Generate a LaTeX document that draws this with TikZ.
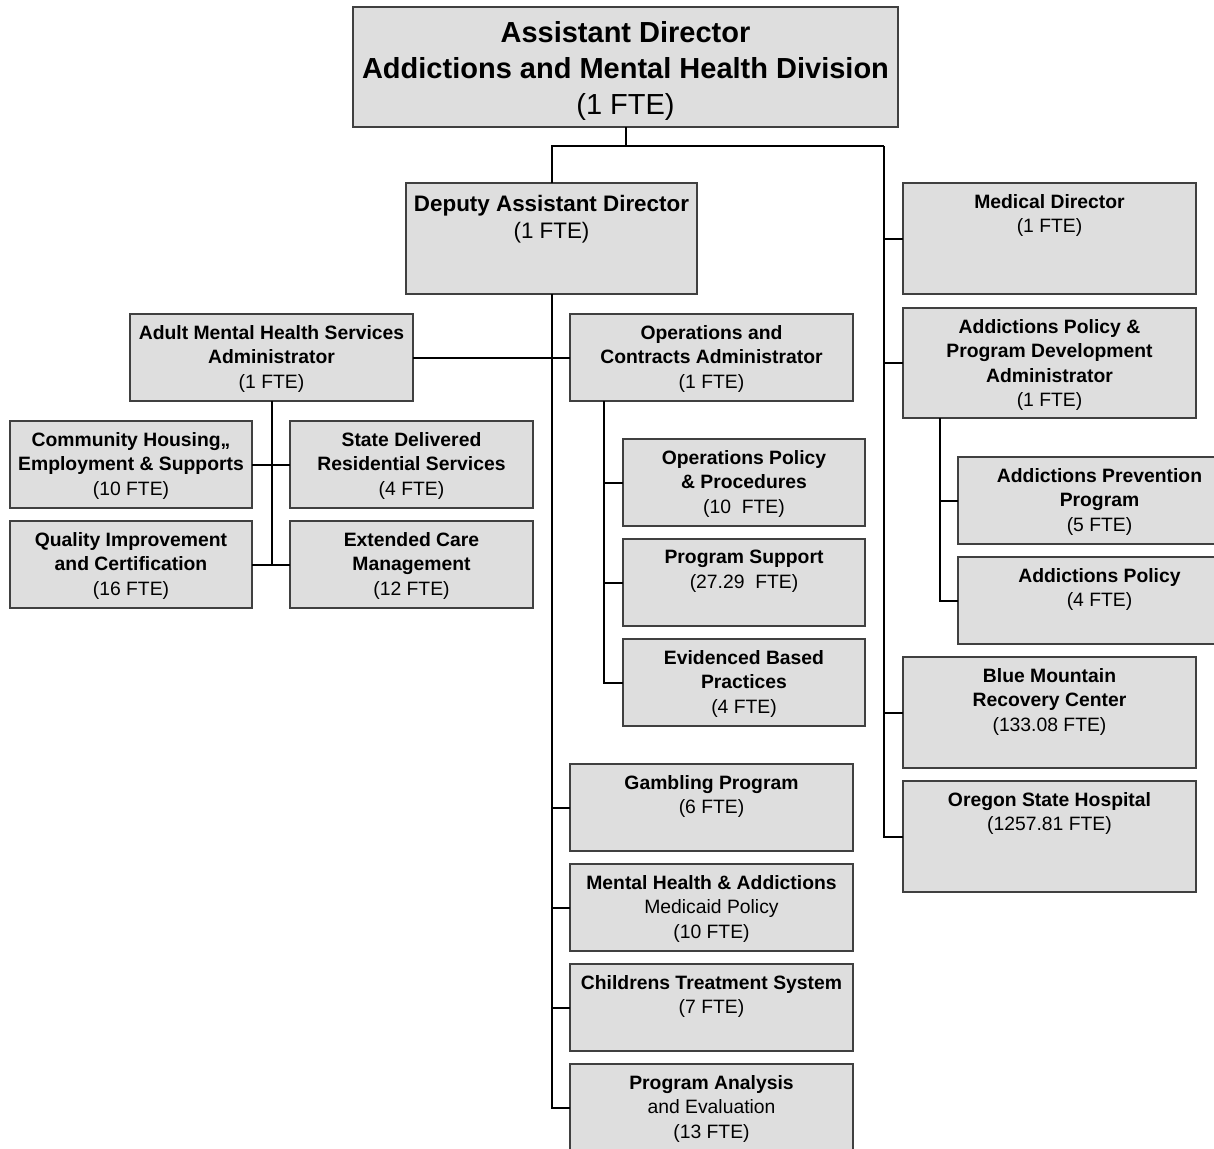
\documentclass[tikz,border=0pt]{standalone}
\usepackage{fontspec}
\setmainfont{Liberation Sans}
\usetikzlibrary{positioning,calc}
\definecolor{boxgray}{HTML}{DEDEDE}
\definecolor{boxline}{HTML}{404040}

\begin{document}
\begin{tikzpicture}[
    x=0.75pt, y=-0.75pt,
    node distance=9.75pt,
    unit/.style 2 args={draw=boxline, fill=boxgray, line width=1.2pt, anchor=north west, inner sep=0pt, outer sep=0pt, minimum width=#1*0.75pt, minimum height=#2*0.75pt},
    txt/.style={anchor=north, inner sep=0pt, align=center, font=\fontsize{14.5}{18.4}\selectfont\bfseries, yshift=-8.25pt},
    dtxt/.style={txt, font=\fontsize{16.8}{20.25}\selectfont\bfseries, yshift=-0.75pt},
    ttxt/.style={txt, font=\fontsize{21.75}{27}\selectfont\bfseries, yshift=-2.75pt},
    link/.style={line width=1.5pt, black},
]
    \useasboundingbox[fill=white] (0,0) rectangle (1214,1149);
    \clip (0,0) rectangle (1214,1149);

    % top level
    \node[unit={545}{120}, label={[ttxt]north:{Assistant Director\\Addictions and Mental Health Division\\\mdseries(1 FTE)}}] (ad) at (353,7) {};
    \node[unit={291}{111}, label={[dtxt]north:{Deputy Assistant Director\\\mdseries(1 FTE)}}] (dep) at (406,183) {};

    % right column
    \node[unit={293}{111}, label={[txt]north:{Medical Director\\\mdseries(1 FTE)}}] (med) at (903,183) {};
    \node[unit={293}{110}, label={[txt]north:{Addictions Policy \&\\Program Development\\Administrator\\\mdseries(1 FTE)}}] (apd) at (903,308) {};
    \node[unit={283}{87}, label={[txt]north:{Addictions Prevention\\Program\\\mdseries(5 FTE)}}] (app) at (958,457) {};
    \node[unit={283}{87}, below=of app, label={[txt]north:{Addictions Policy\\\mdseries(4 FTE)}}] (ap) {};
    \node[unit={293}{111}, label={[txt]north:{Blue Mountain\\Recovery Center\\\mdseries(133.08 FTE)}}] (bmrc) at (903,657) {};
    \node[unit={293}{111}, below=of bmrc, label={[txt]north:{Oregon State Hospital\\\mdseries(1257.81 FTE)}}] (osh) {};

    % adult mental health
    \node[unit={283}{87}, label={[txt]north:{Adult Mental Health Services\\Administrator\\\mdseries(1 FTE)}}] (amh) at (130,314) {};
    \node[unit={242}{87}, label={[txt]north:{Community Housing,,\\Employment \& Supports\\\mdseries(10 FTE)}}] (chs) at (10,421) {};
    \node[unit={243}{87}, label={[txt]north:{State Delivered\\Residential Services\\\mdseries(4 FTE)}}] (sdr) at (290,421) {};
    \node[unit={242}{87}, below=of chs, label={[txt]north:{Quality Improvement\\and Certification\\\mdseries(16 FTE)}}] (qic) {};
    \node[unit={243}{87}, below=of sdr, label={[txt]north:{Extended Care\\Management\\\mdseries(12 FTE)}}] (ecm) {};

    % operations
    \node[unit={283}{87}, label={[txt]north:{Operations and\\Contracts Administrator\\\mdseries(1 FTE)}}] (ops) at (570,314) {};
    \node[unit={242}{87}, label={[txt]north:{Operations Policy\\\& Procedures\\\mdseries(10\ \ FTE)}}] (opp) at (623,439) {};
    \node[unit={242}{87}, below=of opp, label={[txt]north:{Program Support\\\mdseries(27.29\ \ FTE)}}] (ps) {};
    \node[unit={242}{87}, below=of ps, label={[txt]north:{Evidenced Based\\Practices\\\mdseries(4 FTE)}}] (ebp) {};

    % programs under deputy
    \node[unit={283}{87}, label={[txt]north:{Gambling Program\\\mdseries(6 FTE)}}] (gam) at (570,764) {};
    \node[unit={283}{87}, below=of gam, label={[txt]north:{Mental Health \& Addictions\\\mdseries Medicaid Policy\\\mdseries(10 FTE)}}] (mha) {};
    \node[unit={283}{87}, below=of mha, label={[txt]north:{Childrens Treatment System\\\mdseries(7 FTE)}}] (cts) {};
    \node[unit={283}{87}, below=of cts, label={[txt]north:{Program Analysis\\\mdseries and Evaluation\\\mdseries(13 FTE)}}] (pae) {};

    % connectors
    \coordinate (rtop) at (884,146);
    \draw[link] (ad.south) -- (ad.south |- rtop);
    \draw[link] (dep.north) |- (rtop);
    \foreach \n in {med,apd,bmrc,osh}
        \draw[link] (rtop) |- (\n.west);
    \foreach \n in {gam,mha,cts,pae}
        \draw[link] (dep.south) |- (\n.west);
    \draw[link] (amh.east) -- (ops.west);

    \draw[link] (amh.south) -- (amh.south |- qic.east);
    \draw[link] (chs.east) -- (sdr.west);
    \draw[link] (qic.east) -- (ecm.west);

    \coordinate (opsbus) at ($(ops.south west)+(34,0)$);
    \foreach \n in {opp,ps,ebp}
        \draw[link] (opsbus) |- (\n.west);

    \coordinate (apdbus) at ($(apd.south west)+(37,0)$);
    \foreach \n in {app,ap}
        \draw[link] (apdbus) |- (\n.west);
\end{tikzpicture}
\end{document}
